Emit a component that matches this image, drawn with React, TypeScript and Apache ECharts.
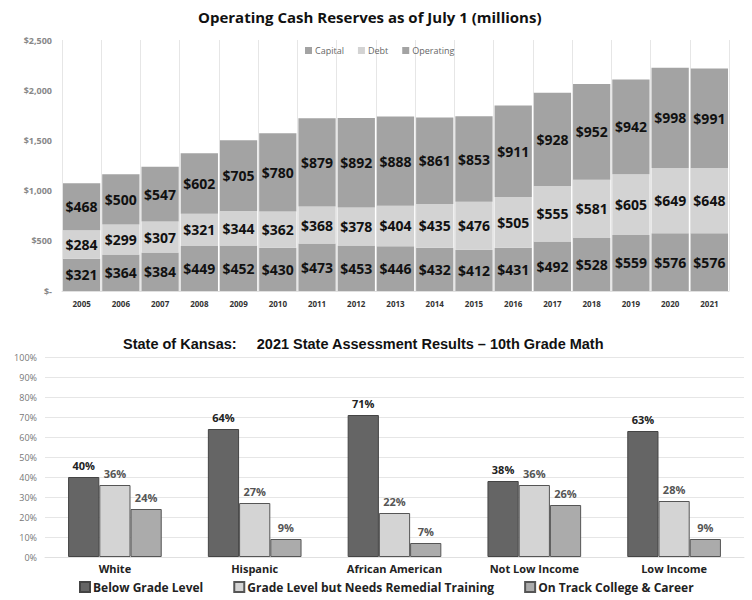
import React, { useEffect, useRef } from "react";
import * as echarts from "echarts";

const years = ["2005","2006","2007","2008","2009","2010","2011","2012","2013","2014","2015","2016","2017","2018","2019","2020","2021"];
const capital = [321,364,384,449,452,430,473,453,446,432,412,431,492,528,559,576,576];
const debt = [284,299,307,321,344,362,368,378,404,435,476,505,555,581,605,649,648];
const operating = [468,500,547,602,705,780,879,892,888,861,853,911,928,952,942,998,991];

const groups = ["White","Hispanic","African American","Not Low Income","Low Income"];
const belowGrade = [40,64,71,38,63];
const needsRemedial = [36,27,22,36,28];
const onTrack = [24,9,7,26,9];

export default function App() {
  const ref = useRef<HTMLDivElement>(null);
  useEffect(() => {
    const chart = echarts.init(ref.current!, null, { renderer: "svg" });
    const topFont = "'Open Sans', sans-serif";
    const botFont = "'Liberation Sans', Arial, sans-serif";
    const topLabel = {
      show: true,
      position: "inside" as const,
      color: "#111",
      fontWeight: "bold" as const,
      fontSize: 14,
      fontFamily: topFont,
      formatter: (p: any) => "$" + p.value,
    };
    const botLabel = (color: string) => ({
      show: true,
      position: "top" as const,
      distance: 6,
      color,
      fontWeight: "bold" as const,
      fontSize: 11,
      fontFamily: topFont,
      formatter: (p: any) => p.value + "%",
    });
    chart.setOption({
      animation: false,
      backgroundColor: "#fff",
      title: [
        {
          text: "Operating Cash Reserves as of July 1 (millions)",
          left: 193,
          top: 4,
          textStyle: { fontFamily: topFont, fontSize: 15, fontWeight: "bold", color: "#111" },
        },
        {
          text: "State of Kansas:     2021 State Assessment Results \u2013 10th Grade Math",
          left: 118,
          top: 331,
          textStyle: { fontFamily: botFont, fontSize: 14.5, fontWeight: "bold", color: "#111" },
        },
      ],
      legend: [
        {
          data: ["Capital", "Debt", "Operating"],
          left: 300,
          top: 41,
          itemWidth: 7,
          itemHeight: 7,
          itemGap: 14,
          icon: "rect",
          textStyle: { fontFamily: topFont, fontSize: 9, color: "#666", padding: [0, 0, 0, -2] },
        },
        {
          data: ["Below Grade Level", "Grade Level but Needs Remedial Training", "On Track College & Career"],
          left: 74,
          top: 576,
          itemWidth: 10,
          itemHeight: 10,
          itemGap: 30,
          icon: "rect",
          textStyle: { fontFamily: topFont, fontSize: 12, fontWeight: "bold", color: "#222", padding: [0, 0, 0, -2] },
        },
      ],
      grid: [
        { left: 62, right: 23, top: 40, bottom: 309 },
        { left: 45, right: 8, top: 357, bottom: 43 },
      ],
      xAxis: [
        {
          type: "category",
          gridIndex: 0,
          data: years,
          axisLine: { show: true, lineStyle: { color: "#e0e0e0" } },
          axisTick: { show: false },
          splitLine: { show: true, lineStyle: { color: "#e6e6e6" } },
          axisLabel: { fontFamily: topFont, fontSize: 8, fontWeight: "bold", color: "#333", margin: 8 },
        },
        {
          type: "category",
          gridIndex: 1,
          data: groups,
          axisLine: { show: true, lineStyle: { color: "#e0e0e0" } },
          axisTick: { show: false },
          axisLabel: { fontFamily: topFont, fontSize: 11, fontWeight: "bold", color: "#222", margin: 6 },
        },
      ],
      yAxis: [
        {
          type: "value",
          gridIndex: 0,
          min: 0,
          max: 2500,
          interval: 500,
          splitLine: { show: false },
          axisLine: { show: false },
          axisTick: { show: false },
          axisLabel: {
            fontFamily: topFont,
            fontSize: 9,
            fontWeight: "bold",
            color: "#888",
            margin: 10,
            formatter: (v: number) => (v === 0 ? "$-" : "$" + v.toLocaleString("en-US")),
          },
        },
        {
          type: "value",
          gridIndex: 1,
          min: 0,
          max: 100,
          interval: 10,
          splitLine: { show: true, lineStyle: { color: "#e6e6e6" } },
          axisLine: { show: false },
          axisTick: { show: false },
          axisLabel: {
            fontFamily: topFont,
            fontSize: 9,
            color: "#777",
            margin: 8,
            formatter: (v: number) => v + "%",
          },
        },
      ],
      series: [
        {
          name: "Capital",
          type: "bar",
          stack: "cash",
          xAxisIndex: 0,
          yAxisIndex: 0,
          data: capital,
          barCategoryGap: "5%",
          itemStyle: { color: "#a3a3a3" },
          label: topLabel,
        },
        {
          name: "Debt",
          type: "bar",
          stack: "cash",
          xAxisIndex: 0,
          yAxisIndex: 0,
          data: debt,
          itemStyle: { color: "#d3d3d3" },
          label: topLabel,
        },
        {
          name: "Operating",
          type: "bar",
          stack: "cash",
          xAxisIndex: 0,
          yAxisIndex: 0,
          data: operating,
          itemStyle: { color: "#a3a3a3" },
          label: topLabel,
        },
        {
          name: "Below Grade Level",
          type: "bar",
          xAxisIndex: 1,
          yAxisIndex: 1,
          data: belowGrade,
          barGap: "0%",
          barCategoryGap: "33%",
          itemStyle: { color: "#656565", borderColor: "#444", borderWidth: 1 },
          label: botLabel("#222"),
        },
        {
          name: "Grade Level but Needs Remedial Training",
          type: "bar",
          xAxisIndex: 1,
          yAxisIndex: 1,
          data: needsRemedial,
          itemStyle: { color: "#d4d4d4", borderColor: "#555", borderWidth: 1 },
          label: botLabel("#555"),
        },
        {
          name: "On Track College & Career",
          type: "bar",
          xAxisIndex: 1,
          yAxisIndex: 1,
          data: onTrack,
          itemStyle: { color: "#ababab", borderColor: "#555", borderWidth: 1 },
          label: botLabel("#555"),
        },
      ],
    });
    return () => chart.dispose();
  }, []);
  return (
    <div
      ref={ref}
      style={{ position: "fixed", left: 0, top: 0, width: 752, height: 600, background: "#fff" }}
    />
  );
}
